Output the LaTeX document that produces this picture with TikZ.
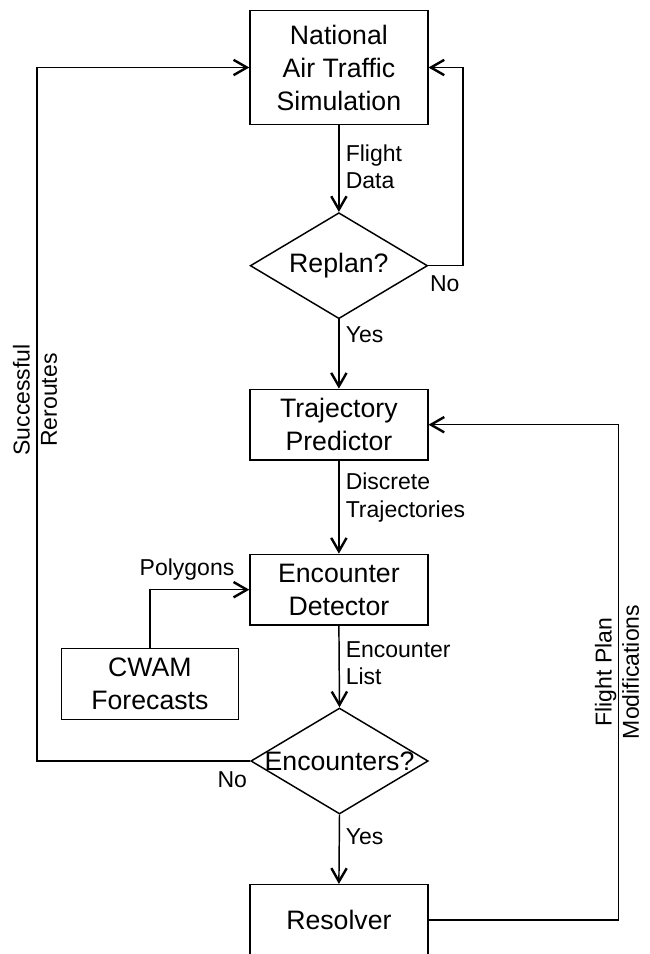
\documentclass[tikz,border=0pt]{standalone}
\usepackage{fontspec}
\setmainfont{Liberation Sans}
\usetikzlibrary{arrows.meta,shapes.geometric}
\begin{document}
\begin{tikzpicture}[x=0.75pt,y=-0.75pt,
  big/.style={font=\fontsize{20}{24.75}\selectfont},
  small/.style={font=\fontsize{17.25}{20.5}\selectfont},
  procbox/.style={draw, line width=1.1pt, rectangle, inner sep=0pt, align=center, big},
  decision/.style={draw, line width=1.1pt, diamond, inner sep=0pt, minimum width=133pt, minimum height=79.5pt},
  lbl/.style={small, inner sep=0pt, align=left},
  conn/.style={line width=1.1pt},
  arr/.style={conn, -{Straight Barb[length=10pt,width=11.5pt,line width=1.8pt]}}
]
\clip (0,0) rectangle (650,954);
\fill[white] (0,0) rectangle (650,954);

% boxes
\node[procbox, minimum width=133.3pt, minimum height=85.2pt] (nats) at (338.9,67.5) {National\\Air Traffic\\Simulation};
\node[decision] (replan) at (338.9,265.7) {};
\node[big, inner sep=0pt] (replantxt) at (338.9,265.7) {Replan?};
\node[procbox, minimum width=133.3pt, minimum height=53pt] (tp) at (338.9,424.7) {Trajectory\\Predictor};
\node[procbox, minimum width=133.3pt, minimum height=53pt] (ed) at (338.9,589.7) {Encounter\\Detector};
\node[procbox, minimum width=132.9pt, minimum height=53.2pt] (cwam) at (149.9,683.8) {CWAM\\Forecasts};
\node[decision] (enc) at (339.5,761) {};
\node[big, inner sep=0pt] (enctxt) at (339.5,761) {Encounters?};
\node[procbox, minimum width=133.3pt, minimum height=53pt] (res) at (338.9,920) {Resolver};

% coordinates for loop corners
\coordinate (rno) at (463,265.7);
\coordinate (lno) at (37.2,761);
\coordinate (fpm) at (618.3,920);

% connectors
\draw[arr] (nats.south) -- (replan.north);
\draw[arr] (replan.east) -- (rno) |- (nats.east);
\draw[arr] (replan.south) -- (tp.north);
\draw[arr] (tp.south) -- (ed.north);
\draw[arr] (cwam.north) |- (ed.west);
\draw[arr] (ed.south) -- (enc.north);
\draw[arr] (enc.south) -- (res.north);
\draw[arr] (enc.west) -- (lno) |- (nats.west);
\draw[arr] (res.east) -- (fpm) |- (tp.east);

% labels
\node[lbl, anchor=west] (l1) at (345.5,166.5) {Flight\\Data};
\node[lbl, anchor=west] (l2) at (345.5,335) {Yes};
\node[lbl, anchor=west] (l3) at (345.5,497.5) {Discrete\\Trajectories};
\node[lbl, anchor=west] (l4) at (345.5,663) {Encounter\\List};
\node[lbl, anchor=west] (l5) at (345.5,836.7) {Yes};
\node[lbl] (l6) at (444.7,283.3) {No};
\node[lbl] (l7) at (232.3,779.3) {No};
\node[lbl] (l8) at (187,570) {Polygons};
\node[small, inner sep=0pt, align=center, rotate=90] (l9) at (35,400) {Successful\\Reroutes};
\node[small, inner sep=0pt, align=center, rotate=90] (l10) at (617,672) {Flight Plan\\Modifications};
\end{tikzpicture}
\end{document}
